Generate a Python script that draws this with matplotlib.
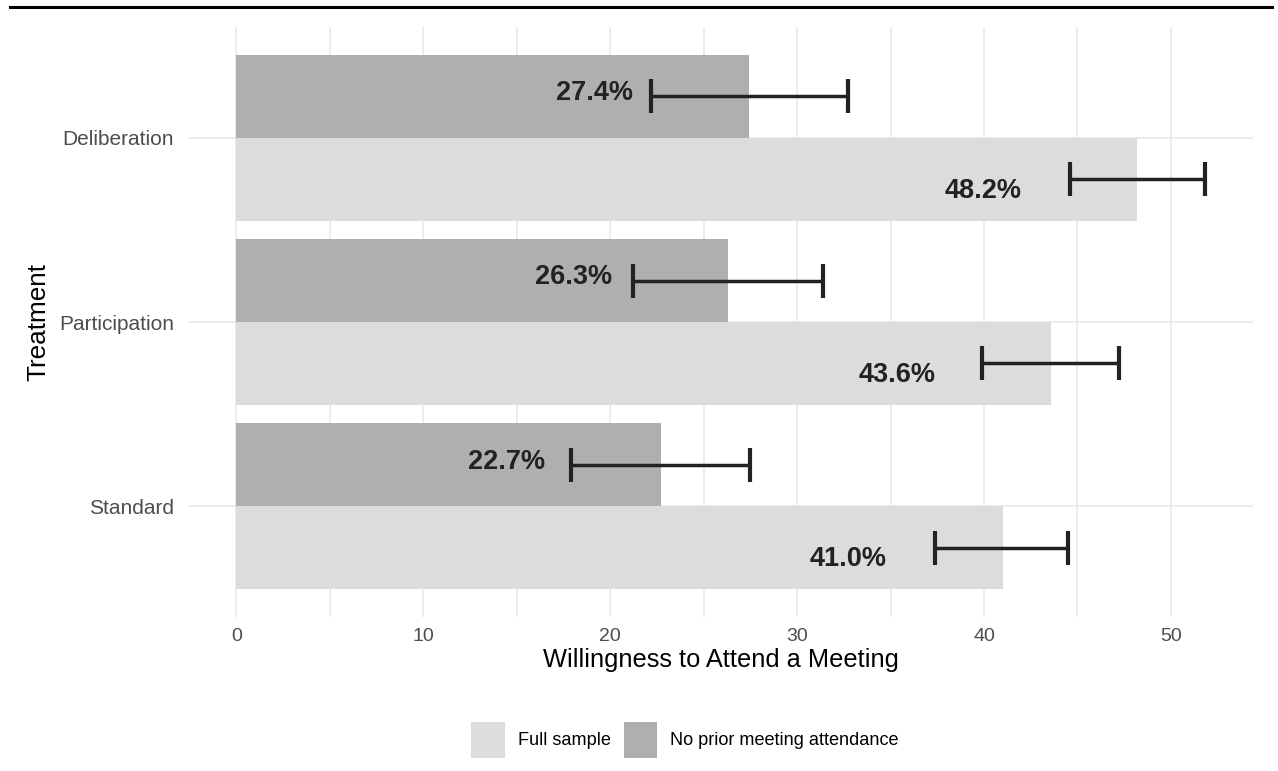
import numpy as np
import matplotlib
matplotlib.use('Agg')
import matplotlib.pyplot as plt
from matplotlib.patches import Patch
from matplotlib.lines import Line2D

plt.rcParams['font.family'] = ['Liberation Sans', 'DejaVu Sans']

# data
treatments = ['Standard', 'Participation', 'Deliberation']
full_pct = [41.0, 43.6, 48.2]
noprior_pct = [22.7, 26.3, 27.4]
full_lo = [37.4, 39.9, 44.6]
full_hi = [44.5, 47.2, 51.8]
noprior_lo = [17.9, 21.2, 22.2]
noprior_hi = [27.5, 31.4, 32.7]
legend_labels = ['Full sample', 'No prior meeting attendance']
xticks_major = [0, 10, 20, 30, 40, 50]
xticks_minor = [5, 15, 25, 35, 45]

LIGHT = '#dcdcdc'
DARK = '#afafaf'
GRID = '#ebebeb'
INK = '#222222'

pos = np.arange(len(treatments))
h = 0.45
label_shift = 8.25

fig = plt.figure(figsize=(12.78, 7.71), dpi=100)
ax = fig.add_axes([188/1278, 1-617/771, (1253-188)/1278, (617-27)/771])

# bars
ax.barh(pos - h/2, full_pct, height=h, color=LIGHT, zorder=2)
ax.barh(pos + h/2, noprior_pct, height=h, color=DARK, zorder=2)

# error bars
full = np.array(full_pct)
nop = np.array(noprior_pct)
ax.errorbar(full, pos - h/2, xerr=[full - np.array(full_lo), np.array(full_hi) - full],
            fmt='none', ecolor=INK, elinewidth=2.5, capsize=12, capthick=3, zorder=3)
ax.errorbar(nop, pos + h/2, xerr=[nop - np.array(noprior_lo), np.array(noprior_hi) - nop],
            fmt='none', ecolor=INK, elinewidth=2.5, capsize=12, capthick=3, zorder=3)

# value labels
for p, v in zip(pos, full_pct):
    ax.text(v - label_shift, p - h/2 - 0.10, f'{v:.1f}%', ha='center', va='baseline',
            fontsize=19.5, fontweight='bold', color=INK, zorder=4)
for p, v in zip(pos, noprior_pct):
    ax.text(v - label_shift, p + h/2 - 0.02, f'{v:.1f}%', ha='center', va='baseline',
            fontsize=19.5, fontweight='bold', color=INK, zorder=4)

# axes styling (ggplot minimal look)
ax.set_xlim(-2.59, 54.39)
ax.set_ylim(-0.6, 2.6)
ax.set_xticks(xticks_major)
ax.set_xticks(xticks_minor, minor=True)
ax.set_yticks(pos)
ax.set_yticklabels(treatments)
ax.grid(True, which='both', axis='x', color=GRID, lw=1.3, zorder=0)
ax.grid(True, which='major', axis='y', color=GRID, lw=1.3, zorder=0)
ax.set_axisbelow(True)
for s in ax.spines.values():
    s.set_visible(False)
ax.tick_params(axis='both', which='both', length=0)
ax.tick_params(axis='x', labelsize=14, labelcolor='#4d4d4d', pad=8)
ax.tick_params(axis='y', labelsize=15, labelcolor='#4d4d4d', pad=10)

ax.set_xlabel('Willingness to Attend a Meeting', fontsize=18.3, color='black')
ax.xaxis.label.set_va('baseline')
ax.xaxis.set_label_coords(0.5, -0.0847)
ax.set_ylabel('Treatment', fontsize=18.8, color='black')
ax.yaxis.label.set_va('center')
ax.yaxis.set_label_coords(-0.1404, 0.5)

# legend at the bottom
handles = [Patch(facecolor=LIGHT, edgecolor='none'), Patch(facecolor=DARK, edgecolor='none')]
fig.legend(handles, legend_labels, loc='center', bbox_to_anchor=(685/1278, 1-740/771),
           ncol=2, frameon=False, fontsize=13.1, handlelength=1.83, handleheight=2.67,
           handletextpad=0.72, columnspacing=0.72)

# rule across the top of the figure
fig.add_artist(Line2D([10/1278, 1272/1278], [1-7/771, 1-7/771], color='black', lw=2.2))

fig.savefig('out.png', dpi=100)
